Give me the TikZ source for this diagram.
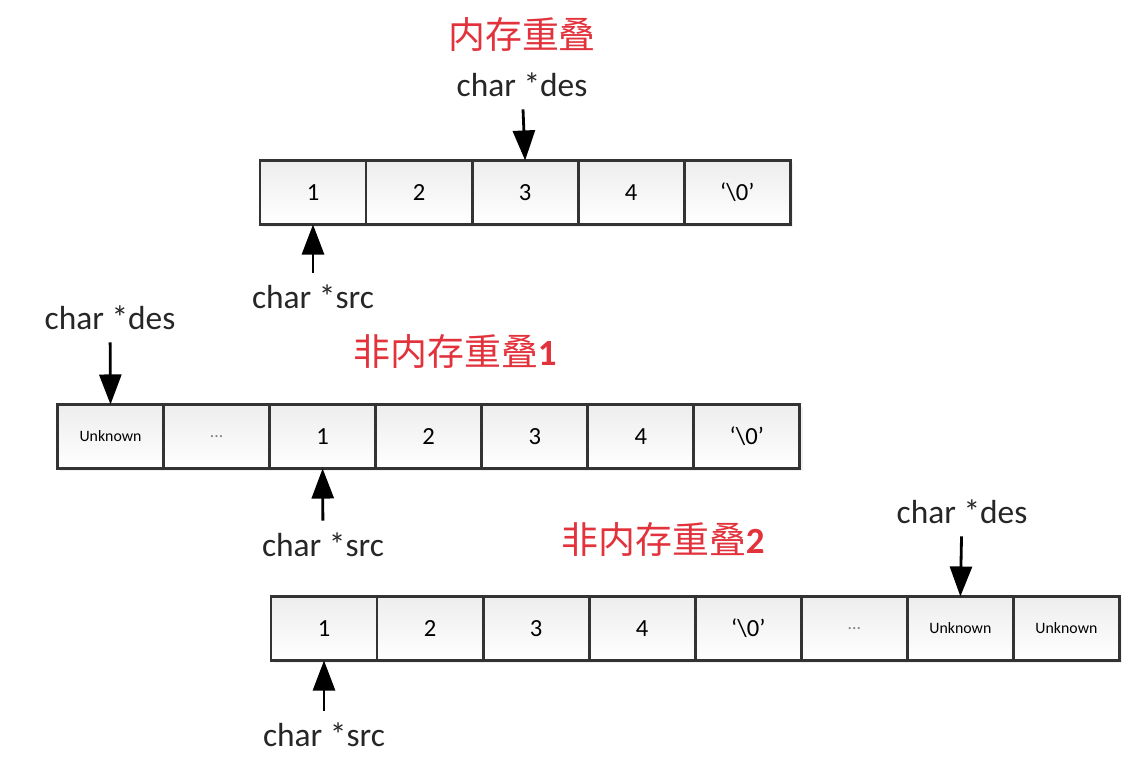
\documentclass[tikz,border=0pt]{standalone}
\usepackage{fontspec}
\setmainfont{Carlito}
\newfontfamily\cjk{Noto Sans CJK SC}
\usetikzlibrary{positioning}
\usetikzlibrary{arrows.meta}
\usetikzlibrary{shadows}
\definecolor{titlered}{HTML}{E2323C}
\tikzstyle{cell} = [draw=black!80, line width=0.8pt, minimum width=1.06cm, minimum height=0.64cm, inner sep=0pt, outer sep=0pt, top color=gray!14, bottom color=white, drop shadow={opacity=0.12, shadow xshift=0.8pt, shadow yshift=-0.8pt}, font=\fontsize{7}{8}\selectfont]
\tikzstyle{ptr} = [line width=0.8pt, -{Triangle[length=3mm,width=2.2mm]}]
\tikzstyle{lbl} = [font=\fontsize{9.5}{11}\selectfont, text=black!85]
\tikzstyle{title} = [font=\fontsize{10.5}{12}\selectfont, text=titlered]
\newcommand{\unk}{{\fontsize{4.5}{5}\selectfont Unknown}}
\newcommand{\dotsgray}{\textcolor{gray}{\fontsize{5}{6}\selectfont...}}
\newcommand{\nul}{‘\textbackslash0’}

\begin{document}
\begin{tikzpicture}[x=0.01cm,y=-0.01cm]
	\useasboundingbox (0,0) rectangle (1145,770);
	% overlapping
	\node[title] (t1) at (522,35) {\cjk 内存重叠};
	\node[cell] (a1) at (313,192.5) {1};
	\foreach \t [count=\i from 2] in {2,3,4,\nul} {
		\pgfmathtruncatemacro\j{\i-1}
		\node[cell, right=0pt of a\j] (a\i) {\t};
	}
	\node[lbl] (des1) at (522,85) {char *des};
	\node[lbl] (src1) at (313,297) {char *src};
	\draw[ptr] (des1) -- (a3.north);
	\draw[ptr] (src1) -- (a1.south);
	% not overlapping 1
	\node[title] (t2) at (455,352) {{\cjk 非内存重叠}\textbf{1}};
	\node[cell] (b1) at (110.5,436.5) {\unk};
	\foreach \t [count=\i from 2] in {\dotsgray,1,2,3,4,\nul} {
		\pgfmathtruncatemacro\j{\i-1}
		\node[cell, right=0pt of b\j] (b\i) {\t};
	}
	\node[lbl] (des2) at (110,318) {char *des};
	\node[lbl] (src2) at (323,545) {char *src};
	\draw[ptr] (des2) -- (b1.north);
	\draw[ptr] (src2) -- (b3.south);
	% not overlapping 2
	\node[title] (t3) at (663,540) {{\cjk 非内存重叠}\textbf{2}};
	\node[cell] (c1) at (324,628.5) {1};
	\foreach \t [count=\i from 2] in {2,3,4,\nul,\dotsgray,\unk,\unk} {
		\pgfmathtruncatemacro\j{\i-1}
		\node[cell, right=0pt of c\j] (c\i) {\t};
	}
	\node[lbl] (des3) at (962,512) {char *des};
	\node[lbl] (src3) at (324,735) {char *src};
	\draw[ptr] (des3) -- (c7.north);
	\draw[ptr] (src3) -- (c1.south);
\end{tikzpicture}
\end{document}
